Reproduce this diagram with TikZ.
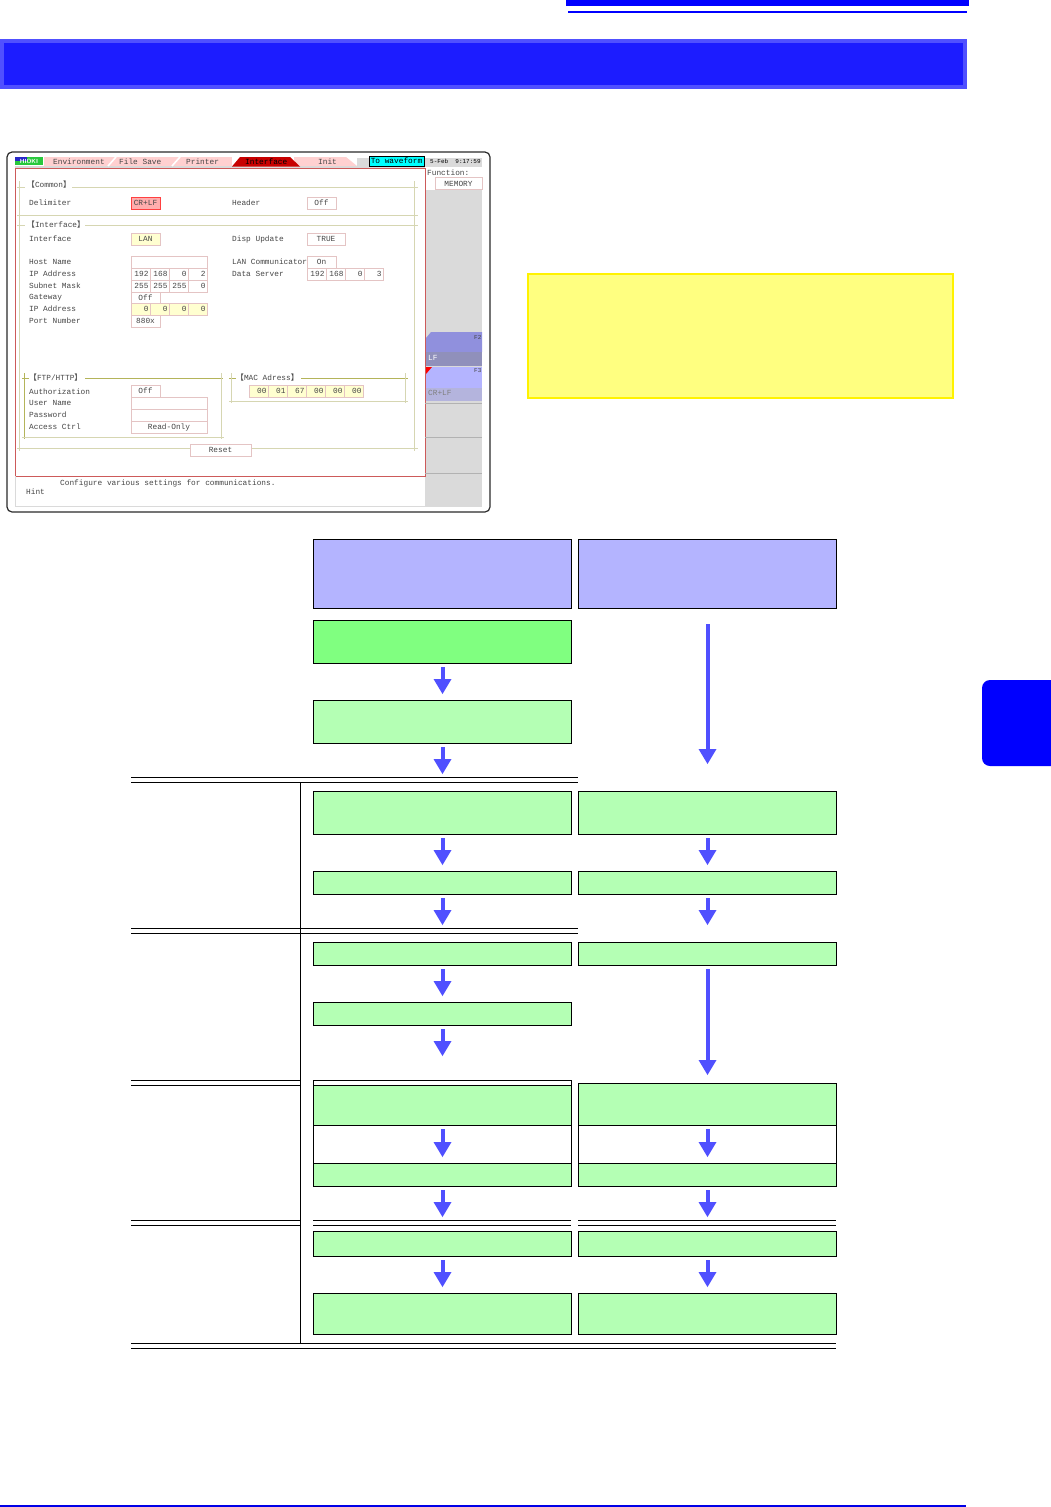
\documentclass[tikz,border=0pt]{standalone}
\usepackage{fontspec}
\usepackage{xcolor}
\usepackage{tikz}
\usetikzlibrary{arrows.meta,positioning}
\newfontfamily\scrfont{Liberation Mono}
\newfontfamily\cjkfont{Noto Sans CJK JP}
\definecolor{hkblue}{RGB}{0,0,255}
\definecolor{hkband}{RGB}{28,28,255}
\definecolor{hkarrow}{RGB}{80,80,255}
\definecolor{hkhead}{RGB}{180,180,255}
\definecolor{hkgreen}{RGB}{180,255,180}
\definecolor{hkdeep}{RGB}{128,255,128}
\definecolor{hkyellow}{RGB}{255,255,128}
\definecolor{hkcream}{RGB}{255,255,208}
\definecolor{hkframe}{RGB}{214,214,178}
\definecolor{hkolive}{RGB}{180,180,90}
\definecolor{hkcell}{RGB}{228,196,196}
\definecolor{hkpink}{RGB}{255,208,208}
\definecolor{hkgrey}{RGB}{218,218,218}
\definecolor{hkred}{RGB}{205,90,90}
\definecolor{hkink}{RGB}{70,70,70}
\definecolor{hkftwo}{RGB}{144,144,221}
\definecolor{hkftwob}{RGB}{144,144,187}
\definecolor{hkfthreeb}{RGB}{180,180,221}
\definecolor{hkcyan}{RGB}{0,255,255}
\definecolor{hktab}{RGB}{200,0,0}
\definecolor{hklogog}{RGB}{40,200,60}
\definecolor{hklogob}{RGB}{40,40,200}
\definecolor{hkline}{RGB}{0,0,230}

\begin{document}
\begin{tikzpicture}[
  x=1pt, y=-1pt,
  flow/.style={rectangle, draw=black, line width=1pt, fill=hkgreen, outer sep=0pt,
               minimum width=258pt, inner sep=0pt},
  head/.style={flow, fill=hkhead, minimum height=69pt},
  arr/.style={-{Triangle[length=15pt,width=18pt,line width=0pt]}, line width=4pt, hkarrow, xshift=.5pt,
              shorten <=3.5pt, shorten >=6.5pt},
  rule/.style={line width=1pt, black},
  txt/.style={anchor=west, inner sep=0pt, font=\scrfont\fontsize{7.8}{9}\selectfont, text=hkink},
  cell/.style={rectangle, draw=hkcell, line width=.8pt, fill=white, anchor=north west, inner sep=0pt,
               minimum height=12pt, text height=5.5pt, text depth=0pt, outer sep=0pt,
               font=\scrfont\fontsize{7.8}{9}\selectfont, text=hkink},
  num/.style={cell, minimum width=19pt, text width=16pt, align=right},
  frame/.style={line width=.8pt, hkframe}]
\useasboundingbox (0,0) rectangle (1050,1507);

% page furniture
\fill[hkblue] (566,0) rectangle (969,6);
\fill[hkblue] (568,11) rectangle (967,13);
\node[rectangle, draw=hkarrow, line width=4pt, fill=hkband, anchor=north west, outer sep=0pt,
      minimum width=963pt, minimum height=46pt] (band) at (2,41) {};
\node[rectangle, draw=yellow, line width=2pt, fill=hkyellow, anchor=north west, outer sep=0pt,
      minimum width=425pt, minimum height=124pt] (note) at (528,274) {};
\fill[hkblue, rounded corners=8pt] (982,680) rectangle (1060,766);
\fill[hkline] (0,1505) rectangle (966,1507);

% instrument screen
\draw[line width=1.2pt, draw=hkink!60!black, fill=white, rounded corners=5pt] (7,152) rectangle (490,512);
\fill[hkgrey] (357,158) rectangle (482,167);
\fill[hkgrey] (425,190) rectangle (482,507);
\fill[hkgrey] (15,165.5) rectangle (425,168);
\fill[hkpink] (44,166) -- (44,157) -- (232,157) -- (232,166) -- cycle;
\fill[hkpink] (294,157) -- (346,157) -- (357,166) -- (294,166) -- cycle;
\draw[line width=1.6pt, white] (108,166) -- (116,157) (172,166) -- (180,157);
\fill[hktab] (232,166.5) -- (240,157) -- (290,157) -- (300,166.5) -- cycle;
\fill[hklogog] (15,157) rectangle (43,165);
\fill[hklogob] (15,157) rectangle (27,161);
\node[font=\sffamily\bfseries\fontsize{6}{6}\selectfont, text=white, inner sep=0pt] (logo) at (29,161) {HIOKI};
\node[txt] (tabenv) at (53,162) {Environment};
\node[txt] (tabfile) at (119,162) {File Save};
\node[txt] (tabprint) at (186,162) {Printer};
\node[txt, text=black] (tabif) at (245,162) {Interface};
\node[txt] (tabinit) at (318,162) {Init};
\node[rectangle, draw=black, line width=.8pt, fill=hkcyan, anchor=north west, inner sep=0pt, outer sep=0pt,
      minimum width=55pt, minimum height=10pt, font=\scrfont\fontsize{7.8}{9}\selectfont] (wave) at (369,156) {To waveform};
\node[txt, font=\scrfont\fontsize{6}{8}\selectfont, text=black] (clock) at (430,161) {5-Feb \ 9:17:59};
\draw[line width=1pt, hkred] (15,168) rectangle (425,476);
\draw[line width=.8pt, hkgrey] (15,476) -- (15,506) -- (425,506);
\node[txt] (fnlabel) at (427,173) {Function:};
\node[cell, minimum width=47pt] (fnval) at (435,177.5) {MEMORY};
\fill[hkftwo] (431,332) -- (426,338) -- (426,352) -- (482,352) -- (482,332) -- cycle;
\fill[hkftwob] (426,352) rectangle (482,366);
\fill[hkhead] (426,367) rectangle (482,388);
\fill[hkfthreeb] (426,388) rectangle (482,401);
\fill[red] (426,367) -- (432,367) -- (426,374) -- cycle;
\node[txt, font=\scrfont\fontsize{6}{8}\selectfont] (ftwo) at (474,337) {F2};
\node[txt, font=\scrfont\fontsize{6}{8}\selectfont] (fthree) at (474,371) {F3};
\node[txt, text=white] (lflabel) at (428,358) {LF};
\node[txt, text=gray] (crlflabel) at (428,393) {CR+LF};
\foreach \yy in {403,437,473}
  \draw[line width=1pt, gray!60] (425,\yy) -- (482,\yy);

% setting frames
\draw[frame] (17,187) -- (25,187) (72,187) -- (418,187) (17,215) -- (418,215);
\draw[frame] (19.7,181) -- (19.7,451) (414.3,181) -- (414.3,451);
\draw[frame] (17,225) -- (25,225) (85,225) -- (418,225) (17,448) -- (190,448) (251,448) -- (418,448);
\draw[frame, hkolive] (22,378) -- (29,378) (85,378) -- (223,378);
\draw[frame, hkolive] (24,373) -- (24,439);
\draw[frame] (22,437.7) -- (224,437.7) (221.7,373) -- (221.7,439);
\draw[frame, hkolive] (229,378) -- (236,378) (301,378) -- (408,378);
\draw[frame] (231.7,373) -- (231.7,403) (405.7,373) -- (405.7,403) (229,401) -- (408,401);

\node[txt] (tcommon) at (27,185) {{\cjkfont 【}Common{\cjkfont 】}};
\node[txt] (tiface) at (27,225) {{\cjkfont 【}Interface{\cjkfont 】}};
\node[txt] (tftp) at (29,378) {{\cjkfont 【}FTP/HTTP{\cjkfont 】}};
\node[txt] (tmac) at (236,378) {{\cjkfont 【}MAC Adress{\cjkfont 】}};

\foreach \lname/\lx/\ly/\ltext in {ldelim/29/203/Delimiter, lface/29/239/Interface, lhost/29/262/Host Name,
    lip/29/274/IP Address, lmask/29/286/Subnet Mask, lgate/29/298/Gateway, lgip/29/309/IP Address,
    lport/29/321/Port Number, lauth/29/392/Authorization, luser/29/403/User Name, lpass/29/415/Password,
    lacc/29/427/Access Ctrl, lhead/232/203/Header, ldisp/232/239/Disp Update,
    llan/232/262/LAN Communicator, ldata/232/274/Data Server}
  \node[txt] (\lname) at (\lx,\ly) {\ltext};

\node[cell, minimum width=29pt, draw=red!75, fill=red!32] (cdelim) at (131,197) {CR+LF};
\node[cell, minimum width=29pt] (chead) at (307,197) {Off};
\node[cell, minimum width=29pt, fill=hkcream] (cface) at (131,233) {LAN};
\node[cell, minimum width=38pt] (cdisp) at (307,233) {TRUE};
\node[cell, minimum width=76pt] (chost) at (131,256) {};
\node[cell, minimum width=29pt] (cgate) at (131,292) {Off};
\node[cell, minimum width=29pt] (cport) at (131,315) {880x};
\node[cell, minimum width=29pt] (clan) at (307,256) {On};
\node[cell, minimum width=29pt] (cauth) at (131,385) {Off};
\node[cell, minimum width=76pt] (cuser) at (131,397) {};
\node[cell, minimum width=76pt] (cpass) at (131,409) {};
\node[cell, minimum width=76pt] (cacc) at (131,421) {Read-Only};
\node[cell, minimum width=61pt] (creset) at (190,444) {Reset};

\foreach \cname/\cx/\cy/\ctext in {ipa/131/268/192, ipb/150/268/168, ipc/169/268/0, ipd/188/268/2,
    ma/131/280/255, mb/150/280/255, mc/169/280/255, md/188/280/0,
    da/307/268/192, db/326/268/168, dc/345/268/0, dd/364/268/3}
  \node[num] (\cname) at (\cx,\cy) {\ctext};
\foreach \cname/\cx/\cy/\ctext in {ga/131/303/0, gb/150/303/0, gc/169/303/0, gd/188/303/0,
    mza/249/385/00, mzb/268/385/01, mzc/287/385/67, mzd/306/385/00, mze/325/385/00, mzf/344/385/00}
  \node[num, fill=hkcream] (\cname) at (\cx,\cy) {\ctext};

\node[txt] (hinttext) at (60,483) {Configure various settings for communications.};
\node[txt] (hint) at (26,492) {Hint};

% rules of the table
\draw[rule] (131,777.5) -- (578,777.5) (131,782.5) -- (578,782.5);
\draw[rule] (131,928.5) -- (578,928.5) (131,933.5) -- (578,933.5);
\draw[rule] (300.5,782.5) -- (300.5,1343.5);
\draw[rule] (131,1080.5) -- (300,1080.5) (131,1085.5) -- (300,1085.5);
\draw[rule] (131,1220.5) -- (300,1220.5) (131,1225.5) -- (300,1225.5);
\draw[rule] (313,1220.5) -- (571,1220.5) (313,1225.5) -- (571,1225.5);
\draw[rule] (578,1220.5) -- (836,1220.5) (578,1225.5) -- (836,1225.5);
\draw[rule] (131,1343.5) -- (836,1343.5) (131,1348.5) -- (836,1348.5);
\draw[rule, fill=white] (313.5,1080.5) rectangle (571.5,1186.5);
\draw[rule, fill=white] (578.5,1083.5) rectangle (836.5,1186.5);

% left column
\node[head, anchor=north west] (hl) at (313.5,539.5) {};
\node[flow, fill=hkdeep, minimum height=43pt, below=12pt of hl] (l1) {};
\node[flow, minimum height=43pt, below=37pt of l1] (l2) {};
\node[flow, minimum height=43pt, below=48pt of l2] (l3) {};
\node[flow, minimum height=23pt, below=37pt of l3] (l4) {};
\node[flow, minimum height=23pt, below=48pt of l4] (l5) {};
\node[flow, minimum height=23pt, below=37pt of l5] (l6) {};
\node[flow, minimum height=40pt, below=60pt of l6] (l7) {};
\node[flow, minimum height=23pt, below=38pt of l7] (l8) {};
\node[flow, minimum height=25pt, below=45pt of l8] (l9) {};
\node[flow, minimum height=41pt, below=37pt of l9] (l10) {};

% right column
\node[head, right=7pt of hl] (hr) {};
\node[flow, minimum height=43pt, right=7pt of l3] (r3) {};
\node[flow, minimum height=23pt, right=7pt of l4] (r4) {};
\node[flow, minimum height=23pt, right=7pt of l5] (r5) {};
\node[flow, minimum height=42pt, below=118pt of r5] (r7) {};
\node[flow, minimum height=23pt, right=7pt of l8] (r8) {};
\node[flow, minimum height=25pt, right=7pt of l9] (r9) {};
\node[flow, minimum height=41pt, right=7pt of l10] (r10) {};

% free arrow ends
\coordinate (endl2) at (l2.south |- 0,774);
\coordinate (endl4) at (l4.south |- 0,925);
\coordinate (endl6) at (l6.south |- 0,1056);
\coordinate (endl8) at (l8.south |- 0,1217);
\coordinate (endr8) at (r8.south |- 0,1217);
\coordinate (endr4) at (r4.south |- 0,925);
\coordinate (startr1) at (hr.south |- 0,624);
\coordinate (endr1) at (hr.south |- 0,764);

\draw[arr] (l1) -- (l2);
\draw[arr, shorten >=0pt] (l2) -- (endl2);
\draw[arr] (l3) -- (l4);
\draw[arr, shorten >=0pt] (l4) -- (endl4);
\draw[arr] (l5) -- (l6);
\draw[arr, shorten >=0pt] (l6) -- (endl6);
\draw[arr] (l7) -- (l8);
\draw[arr, shorten >=0pt] (l8) -- (endl8);
\draw[arr] (l9) -- (l10);
\draw[arr, shorten <=0pt, shorten >=0pt] (startr1) -- (endr1);
\draw[arr] (r3) -- (r4);
\draw[arr, shorten >=0pt] (r4) -- (endr4);
\draw[arr, shorten >=8.5pt] (r5) -- (r7);
\draw[arr] (r7) -- (r8);
\draw[arr, shorten >=0pt] (r8) -- (endr8);
\draw[arr] (r9) -- (r10);
\end{tikzpicture}
\end{document}
